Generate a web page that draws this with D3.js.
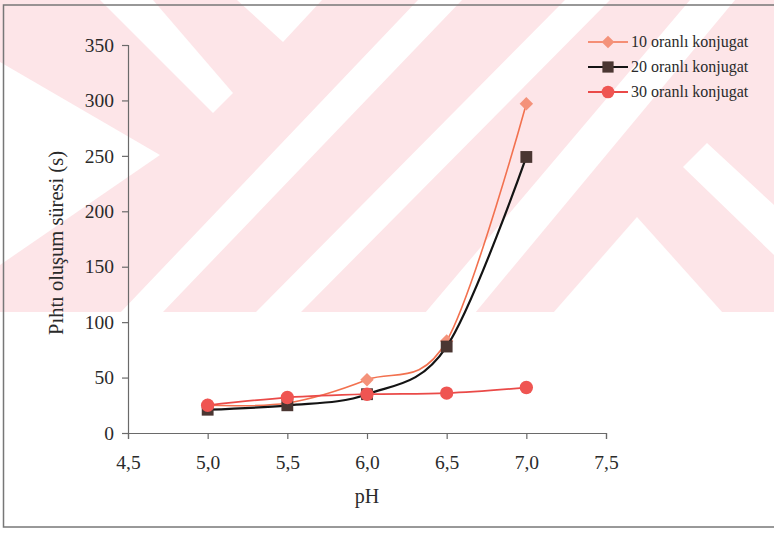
<!DOCTYPE html>
<html>
<head>
<meta charset="utf-8">
<script src="https://cdn.jsdelivr.net/npm/d3@7"></script>
<style>
  html, body { margin: 0; padding: 0; background: #fff; }
  svg { display: block; }
</style>
</head>
<body>
<svg id="chart" width="774" height="533"></svg>
<script>
// ---- data ----
const phValues = [5.0, 5.5, 6.0, 6.5, 7.0];
const xTicks = [4.5, 5.0, 5.5, 6.0, 6.5, 7.0, 7.5];
const yTicks = [0, 50, 100, 150, 200, 250, 300, 350];
const seriesNames = ["10 oranlı konjugat", "20 oranlı konjugat", "30 oranlı konjugat"];
const series10 = [25, 27, 48, 83, 297];
const series20 = [21, 25, 35, 78, 249];
const series30 = [25, 32, 35, 36, 41];
const xTitle = "pH";
const yTitle = "Pıhtı oluşum süresi (s)";

// ---- setup ----
const svg = d3.select("#chart");
const W = 774, H = 533;
const FONT = "'Liberation Serif', 'Times New Roman', serif";

// watermark background (scanned page watermark)
const wm = svg.append("g").attr("class", "watermark");
wm.append("rect").attr("x", 0).attr("y", 0).attr("width", W).attr("height", 312).attr("fill", "#fde5e8");
const whiteShapes = [
  [[100,0],[153,0],[233,93],[213,113]],
  [[0,62],[160,155],[0,265]],
  [[237,0],[322,0],[283,42]],
  [[120,313],[162,313],[462,0],[418,0]],
  [[255,313],[300,313],[610,0],[565,0]],
  [[425,313],[475,313],[735,0],[690,0]],
  [[553,313],[637,217],[723,313]],
  [[707,143],[774,205],[774,255],[683,167]]
];
wm.selectAll("polygon").data(whiteShapes).join("polygon")
  .attr("points", d => d.map(p => p.join(",")).join(" "))
  .attr("fill", "#fff");

// frame
svg.append("rect").attr("x", 3.5).attr("y", 5).attr("width", 800).attr("height", 522)
  .attr("fill", "none").attr("stroke", "#777").attr("stroke-width", 1.5);

// scales
const x = d3.scaleLinear().domain([4.5, 7.5]).range([128, 606]);
const y = d3.scaleLinear().domain([0, 350]).range([433, 45]);

const fmt = d => d3.format(".1f")(d).replace(".", ",");

// axes
const xAxis = svg.append("g").attr("transform", `translate(0,${y(0)})`)
  .call(d3.axisBottom(x).tickValues(xTicks).tickFormat(fmt).tickSize(6).tickPadding(16));
const yAxis = svg.append("g").attr("transform", `translate(${x(4.5)},0)`)
  .call(d3.axisLeft(y).tickValues(yTicks).tickFormat(d3.format("d")).tickSize(6).tickPadding(8));
[xAxis, yAxis].forEach(a => {
  a.select(".domain").attr("stroke", "#6a6a6a").attr("stroke-width", 1.2);
  a.selectAll(".tick line").attr("stroke", "#6a6a6a").attr("stroke-width", 1.2);
  a.selectAll(".tick text").attr("fill", "#2a2a2a").style("font-family", FONT).style("font-size", "19.5px");
});

// titles
svg.append("text").attr("x", x(6.0)).attr("y", 503).attr("text-anchor", "middle")
  .style("font-family", FONT).style("font-size", "20px").attr("fill", "#2a2a2a").text(xTitle);
svg.append("text").attr("transform", `translate(63,${(y(0)+y(350))/2 + 4}) rotate(-90)`)
  .attr("text-anchor", "middle").style("font-family", FONT).style("font-size", "20.5px")
  .attr("fill", "#2a2a2a").text(yTitle);

// series config
const seriesData = [series10, series20, series30];
const lineColors = ["#f2714f", "#141414", "#ea4a48"];
const markerColors = ["#f4927a", "#4a3632", "#ef5552"];
const lineWidths = [1.6, 2.2, 1.8];
const symbols = [d3.symbolSquare, d3.symbolSquare, d3.symbolCircle];
const symSizes = [90, 140, 140];
const symRot = [45, 0, 0];

const line = d3.line().x(d => x(d[0])).y(d => y(d[1])).curve(d3.curveCatmullRom.alpha(0));

seriesData.forEach((vals, i) => {
  const pts = phValues.map((p, j) => [p, vals[j]]);
  const g = svg.append("g");
  g.append("path").datum(pts).attr("d", line).attr("fill", "none")
    .attr("stroke", lineColors[i]).attr("stroke-width", lineWidths[i]);
  g.selectAll("path.m").data(pts).join("path").attr("class", "m")
    .attr("transform", d => `translate(${x(d[0])},${y(d[1])}) rotate(${symRot[i]})`)
    .attr("d", d3.symbol().type(symbols[i]).size(symSizes[i]))
    .attr("fill", markerColors[i]);
});

// legend
const legend = svg.append("g");
seriesNames.forEach((name, i) => {
  const ly = 42 + i * 25;
  legend.append("line").attr("x1", 588).attr("x2", 628).attr("y1", ly).attr("y2", ly)
    .attr("stroke", lineColors[i]).attr("stroke-width", lineWidths[i]);
  legend.append("path").attr("transform", `translate(608,${ly}) rotate(${symRot[i]})`)
    .attr("d", d3.symbol().type(symbols[i]).size(symSizes[i] * 0.9)).attr("fill", markerColors[i]);
  legend.append("text").attr("x", 631).attr("y", ly + 5).style("font-family", FONT)
    .style("font-size", "16px").attr("fill", "#2a2a2a").text(name);
});
</script>
</body>
</html>
